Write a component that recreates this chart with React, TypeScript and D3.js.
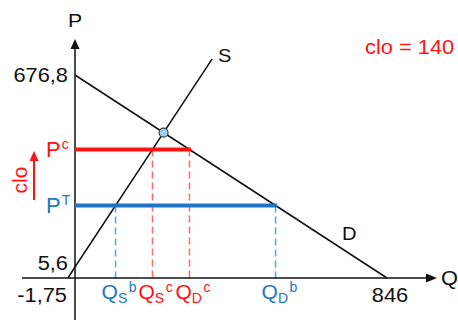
import React from "react";
import * as d3 from "d3";

const W = 458;
const H = 320;

// Demand curve: axis intercepts
const demandQ = [0, 846];
const demandP = [676.8, 0];

// Supply curve: axis intercepts and the upper end of the drawn segment
const supplyQ = [-1.75, 0, 372];
const supplyP = [0, 5.6, 733];

// Controlled prices: ceiling (c) and target (T)
const priceKeys = ["c", "T"];
const priceValues = [416.4, 220.6];

// Axis tick values and their printed labels
const yTickValues = [676.8, 5.6];
const yTickLabels = ["676,8", "5,6"];
const xTickValues = [-1.75, 846];
const xTickLabels = ["-1,75", "846"];

const cloValue = 140;

const RED = "#ff1414";
const RED_DASH = "#ff6b6b";
const BLUE = "#1f74c6";
const BLUE_DASH = "#5aa2e0";
const FONT = "'Liberation Sans', Arial, sans-serif";

type Pt = [number, number];

function xAtY(pts: Pt[], y0: number): number {
  for (let i = 0; i < pts.length - 1; i++) {
    const [x1, y1] = pts[i];
    const [x2, y2] = pts[i + 1];
    if ((y0 - y1) * (y0 - y2) <= 0 && y1 !== y2) {
      return x1 + ((y0 - y1) / (y2 - y1)) * (x2 - x1);
    }
  }
  return NaN;
}

function intersect(a: Pt[], b: Pt[]): Pt {
  for (let i = 0; i < a.length - 1; i++) {
    for (let j = 0; j < b.length - 1; j++) {
      const [x1, y1] = a[i], [x2, y2] = a[i + 1];
      const [x3, y3] = b[j], [x4, y4] = b[j + 1];
      const den = (x1 - x2) * (y3 - y4) - (y1 - y2) * (x3 - x4);
      if (den === 0) continue;
      const t = ((x1 - x3) * (y3 - y4) - (y1 - y3) * (x3 - x4)) / den;
      const u = -((x1 - x2) * (y1 - y3) - (y1 - y2) * (x1 - x3)) / den;
      if (t >= 0 && t <= 1 && u >= 0 && u <= 1) {
        return [x1 + t * (x2 - x1), y1 + t * (y2 - y1)];
      }
    }
  }
  return [NaN, NaN];
}

const Label = ({
  x,
  y,
  anchor = "start",
  size = 19.5,
  fill = "#111",
  sx = 1.12,
  children,
}: any) => (
  <g transform={`translate(${x},${y}) scale(${sx},1)`}>
    <text textAnchor={anchor} fontSize={size} fill={fill} fontFamily={FONT}>
      {children}
    </text>
  </g>
);

export default function App() {
  const x = d3.scaleLinear().domain([-1.75, 0, 846]).range([68, 75, 387]);
  const y = d3.scaleLinear().domain([0, 5.6, 676.8]).range([278, 267, 75]);

  const x0 = x(0);
  const y0 = y(0);

  const line = d3
    .line<Pt>()
    .x((d) => d[0])
    .y((d) => d[1]);

  const demandPts: Pt[] = demandQ.map((q, i) => [x(q), y(demandP[i])]);
  const supplyPts: Pt[] = supplyQ.map((q, i) => [x(q), y(supplyP[i])]);

  const eq = intersect(demandPts, supplyPts);

  const priceLines = priceKeys.map((k, i) => {
    const py = y(priceValues[i]);
    return {
      key: k,
      y: py,
      xs: xAtY(supplyPts, py),
      xd: xAtY(demandPts, py),
      color: k === "c" ? RED : BLUE,
      dash: k === "c" ? RED_DASH : BLUE_DASH,
      tag: k === "c" ? "c" : "b",
    };
  });

  const qLabels = priceLines.flatMap((p) => [
    { x: p.xs, sub: "S", sup: p.tag, color: p.color },
    { x: p.xd, sub: "D", sup: p.tag, color: p.color },
  ]);

  return (
    <svg
      width={W}
      height={H}
      style={{ position: "absolute", left: 0, top: 0, background: "#fff" }}
      fontFamily={FONT}
    >
      {/* dashed drop lines */}
      {priceLines.map((p) =>
        [p.xs, p.xd].map((xx, j) => (
          <line
            key={p.key + j}
            x1={xx}
            x2={xx}
            y1={p.y}
            y2={y0}
            stroke={p.dash}
            strokeWidth={1.5}
            strokeDasharray="7,4"
          />
        ))
      )}

      {/* axes */}
      <line x1={22} x2={428} y1={y0} y2={y0} stroke="#111" strokeWidth={1.5} />
      <path d={`M437,${y0} L426,${y0 - 4.5} L426,${y0 + 4.5} Z`} fill="#111" />
      <line x1={x0} x2={x0} y1={H} y2={47} stroke="#111" strokeWidth={1.5} />
      <path d={`M${x0},39 L${x0 - 4.5},49 L${x0 + 4.5},49 Z`} fill="#111" />

      {/* demand and supply */}
      <path d={line(demandPts) || ""} fill="none" stroke="#111" strokeWidth={1.5} />
      <path d={line(supplyPts) || ""} fill="none" stroke="#111" strokeWidth={1.5} />

      {/* price lines */}
      {priceLines.map((p) => (
        <line
          key={p.key}
          x1={x0}
          x2={p.xd + 1.5}
          y1={p.y}
          y2={p.y}
          stroke={p.color}
          strokeWidth={4}
        />
      ))}

      {/* equilibrium */}
      <circle cx={eq[0]} cy={eq[1]} r={4.5} fill="#a8cbe6" stroke="#2b3a4a" strokeWidth={1.1} />

      {/* axis titles */}
      <Label x={x0} y={27} anchor="middle" size={19}>P</Label>
      <Label x={441} y={285} size={19.5}>Q</Label>
      <Label x={218} y={62} size={18}>S</Label>
      <Label x={342} y={240} size={18}>D</Label>

      {/* tick labels */}
      {yTickValues.map((v, i) => (
        <Label key={v} x={x0 - 7} y={Math.min(y(v) + 7, y0 - 8)} anchor="end">
          {yTickLabels[i]}
        </Label>
      ))}
      {xTickValues.map((v, i) => (
        <Label
          key={v}
          x={v < 0 ? x0 - 8 : x(v) + 3}
          y={y0 + 24}
          anchor={v < 0 ? "end" : "middle"}
        >
          {xTickLabels[i]}
        </Label>
      ))}

      {/* price labels */}
      {priceLines.map((p) => (
        <Label key={p.key} x={46} y={p.y + 8} fill={p.color} size={22} sx={1}>
          P
          <tspan fontSize={14} dx={1} dy={-8}>
            {p.key === "c" ? "c" : "T"}
          </tspan>
        </Label>
      ))}

      {/* quantity labels */}
      {qLabels.map((q, i) => (
        <Label key={i} x={q.x - 14} y={299} fill={q.color} size={21} sx={1}>
          Q
          <tspan fontSize={14} dy={4}>{q.sub}</tspan>
          <tspan fontSize={14} dx={1.5} dy={-11}>{q.sup}</tspan>
        </Label>
      ))}

      {/* clo arrow */}
      <line x1={34} x2={34} y1={200} y2={160} stroke={RED} strokeWidth={2} />
      <path d="M34,151 L29.5,161 L38.5,161 Z" fill={RED} />
      <g transform="translate(27,180) rotate(-90)">
        <text textAnchor="middle" fontSize={21} fill={RED} fontFamily={FONT}>
          clo
        </text>
      </g>

      <Label x={365} y={54} fill={RED} size={19.5}>
        {`clo = ${cloValue}`}
      </Label>
    </svg>
  );
}
